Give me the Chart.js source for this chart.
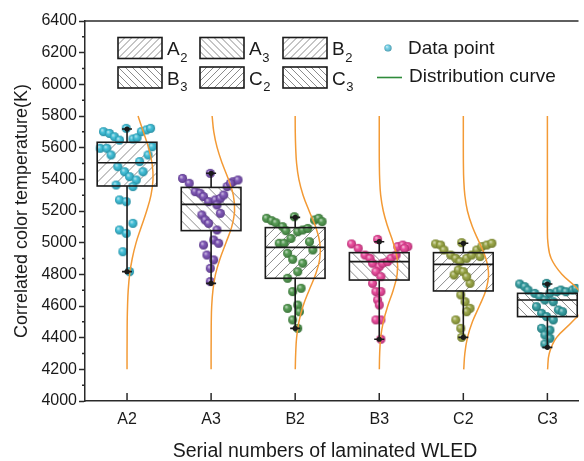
<!DOCTYPE html>
<html>
<head>
<meta charset="utf-8">
<title>CCT of laminated WLED</title>
<script src="https://cdn.jsdelivr.net/npm/chart.js@4.4.0/dist/chart.umd.min.js"></script>
<style>
    html, body { margin: 0; padding: 0; background: #fff; overflow: hidden; }
    #wrap { width: 584px; height: 461px; }
</style>
</head>
<body>
<div id="wrap"><canvas id="cctChart" width="584" height="461"></canvas></div>
<script>
// ---- data ----
const categories = ['A2', 'A3', 'B2', 'B3', 'C2', 'C3'];
const legendNames = [['A', '2'], ['A', '3'], ['B', '2'], ['B', '3'], ['C', '2'], ['C', '3']];
const yTicks = [4000, 4200, 4400, 4600, 4800, 5000, 5200, 5400, 5600, 5800, 6000, 6200, 6400];

// box statistics (K)
const boxLow    = [4817, 4743, 4459, 4390, 4402, 4339];
const boxQ1     = [5358, 5076, 4775, 4764, 4695, 4533];
const boxMedian = [5505, 5242, 4970, 4880, 4863, 4638];
const boxQ3     = [5634, 5349, 5095, 4937, 4937, 4680];
const boxHigh   = [5718, 5438, 5160, 5006, 4996, 4739];

// data points: [horizontal jitter (category units), temperature K]
const pointsA2 = [
    [-0.28, 5701], [-0.21, 5690], [-0.15, 5669], [-0.09, 5648], [-0.01, 5722], [0.07, 5655], [0.12, 5663], [0.17, 5701],
    [0.23, 5712], [0.28, 5722], [-0.32, 5596], [-0.24, 5596], [-0.19, 5554], [0.25, 5554], [0.30, 5606], [0.15, 5512],
    [-0.11, 5480], [-0.03, 5448], [0.03, 5417], [0.11, 5396], [0.19, 5448], [-0.13, 5364], [0.07, 5354], [-0.09, 5270],
    [-0.01, 5259], [0.07, 5122], [-0.09, 5080], [-0.01, 5059], [-0.05, 4943], [0.03, 4817]
];
const pointsA3 = [
    [-0.34, 5406], [-0.26, 5375], [-0.19, 5322], [-0.13, 5312], [-0.09, 5291], [-0.01, 5438], [0.19, 5354], [0.26, 5385],
    [0.32, 5396], [0.23, 5375], [-0.03, 5259], [0.05, 5270], [0.11, 5280], [0.15, 5301], [0.07, 5238], [-0.11, 5175],
    [-0.07, 5143], [-0.03, 5122], [0.11, 5185], [0.07, 5080], [0.03, 5017], [0.09, 4996], [-0.09, 4985], [-0.05, 4922],
    [0.03, 4891], [-0.01, 4838], [-0.01, 4754]
];
const pointsB2 = [
    [-0.34, 5154], [-0.28, 5139], [-0.23, 5126], [-0.15, 5101], [-0.11, 5076], [-0.01, 5164], [0.03, 5069], [0.09, 5080],
    [0.15, 5090], [0.23, 5143], [0.28, 5154], [0.32, 5133], [-0.19, 4996], [-0.13, 4996], [-0.05, 5027], [0.17, 5006],
    [0.21, 4954], [-0.09, 4933], [-0.03, 4895], [0.09, 4870], [0.03, 4817], [-0.09, 4775], [0.07, 4712], [-0.03, 4691],
    [-0.09, 4585], [0.03, 4606], [0.05, 4564], [-0.03, 4512], [0.03, 4459]
];
const pointsB3 = [
    [-0.33, 4992], [-0.25, 4964], [-0.17, 4922], [-0.11, 4901], [-0.08, 4870], [-0.02, 5021], [0.00, 4848], [0.04, 4870],
    [0.10, 4880], [0.14, 4901], [0.20, 4922], [0.22, 4975], [0.28, 4985], [0.34, 4975], [0.30, 4964], [-0.04, 4817],
    [0.02, 4785], [-0.08, 4743], [-0.04, 4691], [0.02, 4691], [-0.02, 4638], [0.00, 4606], [0.02, 4512], [-0.04, 4512],
    [0.02, 4390]
];
const pointsC2 = [
    [-0.33, 4992], [-0.27, 4985], [-0.23, 4954], [-0.15, 4922], [-0.09, 4901], [-0.04, 4880], [-0.02, 5000], [0.04, 4901],
    [0.10, 4922], [0.16, 4954], [0.22, 4975], [0.28, 4985], [0.34, 4996], [0.20, 4912], [-0.11, 4796], [-0.06, 4827],
    [0.00, 4817], [0.08, 4743], [0.04, 4785], [-0.03, 4670], [0.02, 4627], [0.08, 4585], [0.04, 4564], [-0.09, 4512],
    [-0.03, 4459], [-0.02, 4402]
];
const pointsC3 = [
    [-0.33, 4739], [-0.27, 4722], [-0.23, 4701], [-0.15, 4680], [-0.09, 4659], [-0.01, 4743], [0.03, 4680], [0.11, 4690],
    [0.16, 4701], [0.22, 4690], [0.30, 4701], [0.34, 4711], [-0.03, 4638], [0.07, 4627], [0.13, 4575], [0.18, 4564],
    [-0.07, 4554], [-0.13, 4596], [-0.01, 4533], [0.07, 4512], [-0.07, 4459], [0.03, 4448], [-0.03, 4417], [0.03, 4396],
    [-0.03, 4360]
];

// distribution curves: sideways offset (category units) at each temperature
const curveTemps = [4200, 4300, 4400, 4500, 4600, 4700, 4800, 4900, 5000, 5100, 5200, 5300, 5400, 5500, 5600, 5700, 5800];
const curveA2 = [0, 0, 0.001, 0.002, 0.006, 0.014, 0.031, 0.062, 0.108, 0.170, 0.233, 0.285, 0.309, 0.298, 0.256, 0.194, 0.131];
const curveA3 = [0, 0, 0.001, 0.002, 0.007, 0.022, 0.052, 0.107, 0.177, 0.245, 0.279, 0.264, 0.206, 0.133, 0.072, 0.032, 0.012];
const curveB2 = [0.001, 0.006, 0.017, 0.044, 0.094, 0.166, 0.243, 0.293, 0.293, 0.243, 0.166, 0.094, 0.044, 0.017, 0.006, 0.001, 0];
const curveB3 = [0.001, 0.005, 0.017, 0.048, 0.101, 0.166, 0.213, 0.213, 0.166, 0.101, 0.048, 0.017, 0.005, 0.001, 0, 0, 0];
const curveC2 = [0.005, 0.018, 0.049, 0.108, 0.191, 0.268, 0.300, 0.268, 0.191, 0.108, 0.049, 0.018, 0.005, 0.001, 0, 0, 0];
const curveC3 = [0.002, 0.022, 0.108, 0.295, 0.445, 0.372, 0.172, 0.045, 0.006, 0, 0, 0, 0, 0, 0, 0, 0];

const groupPoints = [pointsA2, pointsA3, pointsB2, pointsB3, pointsC2, pointsC3];
const groupCurves = [curveA2, curveA3, curveB2, curveB3, curveC2, curveC3];

// ---- styling ----
const FONT = "'Liberation Sans', Arial, sans-serif";
const INK = '#1a1a1a';
const AXIS = '#2a2a2a';
const CURVE = '#f39a35';
const HATCH = '#8c8c8c';
const pointColors = ['#25b3cf', '#6b3ea9', '#3c8a3a', '#e3318c', '#8a982d', '#1b9094'];
const hatchDirs = ['/', '\\', '/', '\\', '/', '\\'];
const BOX_HALF = 0.355;

// small shaded ball used as the point style
function makeSphere(color, r) {
    const size = Math.ceil(r * 2 + 2);
    const c = document.createElement('canvas');
    c.width = size;
    c.height = size;
    const g = c.getContext('2d');
    const cx = size / 2, cy = size / 2;
    g.beginPath();
    g.arc(cx, cy, r, 0, Math.PI * 2);
    g.fillStyle = color;
    g.fill();
    const grad = g.createRadialGradient(cx - r * 0.35, cy - r * 0.4, 0, cx, cy, r * 1.05);
    grad.addColorStop(0, 'rgba(255,255,255,0.75)');
    grad.addColorStop(0.45, 'rgba(255,255,255,0.12)');
    grad.addColorStop(1, 'rgba(0,0,0,0.28)');
    g.fillStyle = grad;
    g.fill();
    return c;
}

function hatchRect(ctx, x, y, w, h, dir, step) {
    ctx.save();
    ctx.beginPath();
    ctx.rect(x, y, w, h);
    ctx.clip();
    ctx.strokeStyle = HATCH;
    ctx.lineWidth = 1;
    ctx.beginPath();
    for (let x0 = x - h; x0 < x + w + h; x0 += step) {
        if (dir === '/') {
            ctx.moveTo(x0, y + h);
            ctx.lineTo(x0 + h, y);
        } else {
            ctx.moveTo(x0, y);
            ctx.lineTo(x0 + h, y + h);
        }
    }
    ctx.stroke();
    ctx.restore();
}

// boxes, whiskers, extra ticks, titles and legend
const decorPlugin = {
    id: 'cctDecor',
    beforeDatasetsDraw(chart) {
        const { ctx, scales: { x, y } } = chart;
        categories.forEach((c, i) => {
            const left = x.getPixelForValue(i - BOX_HALF);
            const right = x.getPixelForValue(i + BOX_HALF);
            const top = y.getPixelForValue(boxQ3[i]);
            const bottom = y.getPixelForValue(boxQ1[i]);
            hatchRect(ctx, left, top, right - left, bottom - top, hatchDirs[i], 10);
        });
    },
    afterDatasetsDraw(chart) {
        const { ctx, scales: { x, y } } = chart;
        ctx.save();
        ctx.strokeStyle = INK;
        ctx.fillStyle = INK;
        ctx.lineWidth = 1.6;
        categories.forEach((c, i) => {
            const cx = x.getPixelForValue(i);
            const left = x.getPixelForValue(i - BOX_HALF);
            const right = x.getPixelForValue(i + BOX_HALF);
            const q3 = y.getPixelForValue(boxQ3[i]);
            const q1 = y.getPixelForValue(boxQ1[i]);
            const med = y.getPixelForValue(boxMedian[i]);
            const hi = y.getPixelForValue(boxHigh[i]);
            const lo = y.getPixelForValue(boxLow[i]);
            ctx.strokeRect(left, q3, right - left, q1 - q3);
            ctx.beginPath();
            ctx.moveTo(left, med);
            ctx.lineTo(right, med);
            ctx.moveTo(cx, q3);
            ctx.lineTo(cx, hi);
            ctx.moveTo(cx, q1);
            ctx.lineTo(cx, lo);
            ctx.moveTo(cx - 5, hi);
            ctx.lineTo(cx + 5, hi);
            ctx.moveTo(cx - 5, lo);
            ctx.lineTo(cx + 5, lo);
            ctx.stroke();
            [hi, lo].forEach(py => {
                ctx.beginPath();
                ctx.arc(cx, py, 2.6, 0, Math.PI * 2);
                ctx.fill();
            });
        });
        ctx.restore();
    },
    afterDraw(chart) {
        const { ctx, chartArea: area, scales: { x, y } } = chart;
        ctx.save();
        ctx.strokeStyle = AXIS;
        ctx.lineWidth = 1.5;

        // top frame line
        ctx.beginPath();
        ctx.moveTo(area.left, area.top);
        ctx.lineTo(area.right, area.top);
        ctx.stroke();

        // minor y ticks (outward) and inward x ticks
        ctx.beginPath();
        for (let v = 4100; v < 6400; v += 200) {
            const py = y.getPixelForValue(v);
            ctx.moveTo(area.left - 3, py);
            ctx.lineTo(area.left, py);
        }
        categories.forEach((c, i) => {
            const px = x.getPixelForValue(i);
            ctx.moveTo(px, area.bottom);
            ctx.lineTo(px, area.bottom - 8);
        });
        ctx.stroke();

        // axis titles
        ctx.fillStyle = INK;
        ctx.textAlign = 'center';
        ctx.textBaseline = 'middle';
        ctx.font = '19.5px ' + FONT;
        ctx.fillText('Serial numbers of laminated WLED', 325, 452);
        ctx.save();
        ctx.translate(22, (area.top + area.bottom) / 2);
        ctx.rotate(-Math.PI / 2);
        ctx.font = '18px ' + FONT;
        ctx.fillText('Correlated color temperature(K)', 0, 0);
        ctx.restore();

        // legend: hatched boxes with subscript names
        const colX = [118, 200, 283];
        const rowY = [37.5, 67];
        const bw = 44, bh = 21;
        legendNames.forEach((name, i) => {
            const bx = colX[i % 3];
            const by = rowY[Math.floor(i / 3)];
            hatchRect(ctx, bx, by, bw, bh, hatchDirs[i], 7);
            ctx.strokeStyle = INK;
            ctx.lineWidth = 1.6;
            ctx.strokeRect(bx, by, bw, bh);
            const mid = by + bh / 2;
            ctx.textAlign = 'left';
            ctx.textBaseline = 'alphabetic';
            ctx.font = '19px ' + FONT;
            ctx.fillText(name[0], bx + bw + 5, mid + 7);
            const w = ctx.measureText(name[0]).width;
            ctx.font = '13px ' + FONT;
            ctx.fillText(name[1], bx + bw + 5 + w + 0.5, mid + 13.5);
        });

        // legend: data point and distribution curve
        const dot = makeSphere('#5cc6e0', 3.6);
        ctx.drawImage(dot, 388 - dot.width / 2, 48 - dot.height / 2);
        ctx.strokeStyle = '#2e8b3a';
        ctx.lineWidth = 1.6;
        ctx.beginPath();
        ctx.moveTo(377, 77.5);
        ctx.lineTo(402, 77.5);
        ctx.stroke();
        ctx.font = '19px ' + FONT;
        ctx.textBaseline = 'middle';
        ctx.fillStyle = INK;
        ctx.fillText('Data point', 408, 48.5);
        ctx.fillText('Distribution curve', 409, 77);
        ctx.restore();
    }
};

function buildDatasets() {
    const sets = [];
    groupCurves.forEach((curve, i) => {
        sets.push({
            label: categories[i] + ' curve',
            data: curveTemps.map((t, k) => ({ x: i + curve[k], y: t })),
            showLine: true,
            borderColor: CURVE,
            borderWidth: 1.5,
            pointRadius: 0,
            tension: 0.4,
            order: 0
        });
    });
    groupPoints.forEach((pts, i) => {
        sets.push({
            label: categories[i],
            data: pts.map(p => ({ x: i + p[0], y: p[1] })),
            pointStyle: makeSphere(pointColors[i], 4.5),
            pointRadius: 4.5,
            order: 1
        });
    });
    return sets;
}

document.addEventListener('DOMContentLoaded', () => {
    const tickFont = { family: FONT, size: 16 };
    new Chart(document.getElementById('cctChart').getContext('2d'), {
        type: 'scatter',
        data: { datasets: buildDatasets() },
        plugins: [decorPlugin],
        options: {
            responsive: false,
            animation: false,
            layout: { padding: { left: 0, top: 21, right: 0, bottom: 0 } },
            plugins: {
                legend: { display: false },
                tooltip: { enabled: false }
            },
            scales: {
                x: {
                    type: 'linear',
                    min: -0.5,
                    max: 5.37,
                    afterBuildTicks: s => { s.ticks = categories.map((c, i) => ({ value: i })); },
                    afterFit: s => { s.height = 60; },
                    grid: { display: false, drawTicks: false },
                    border: { display: true, color: AXIS, width: 1.5 },
                    ticks: {
                        padding: 9,
                        color: INK,
                        font: tickFont,
                        autoSkip: false,
                        maxRotation: 0,
                        callback: v => categories[v]
                    }
                },
                y: {
                    min: 4000,
                    max: 6400,
                    afterBuildTicks: s => { s.ticks = yTicks.map(v => ({ value: v })); },
                    afterFit: s => { s.width = 85; },
                    grid: { drawOnChartArea: false, tickLength: 6, tickColor: AXIS, tickWidth: 1.5 },
                    border: { display: true, color: AXIS, width: 1.5 },
                    ticks: { padding: 2, color: INK, font: tickFont, callback: v => String(v) }
                }
            }
        }
    });
});
</script>
</body>
</html>
